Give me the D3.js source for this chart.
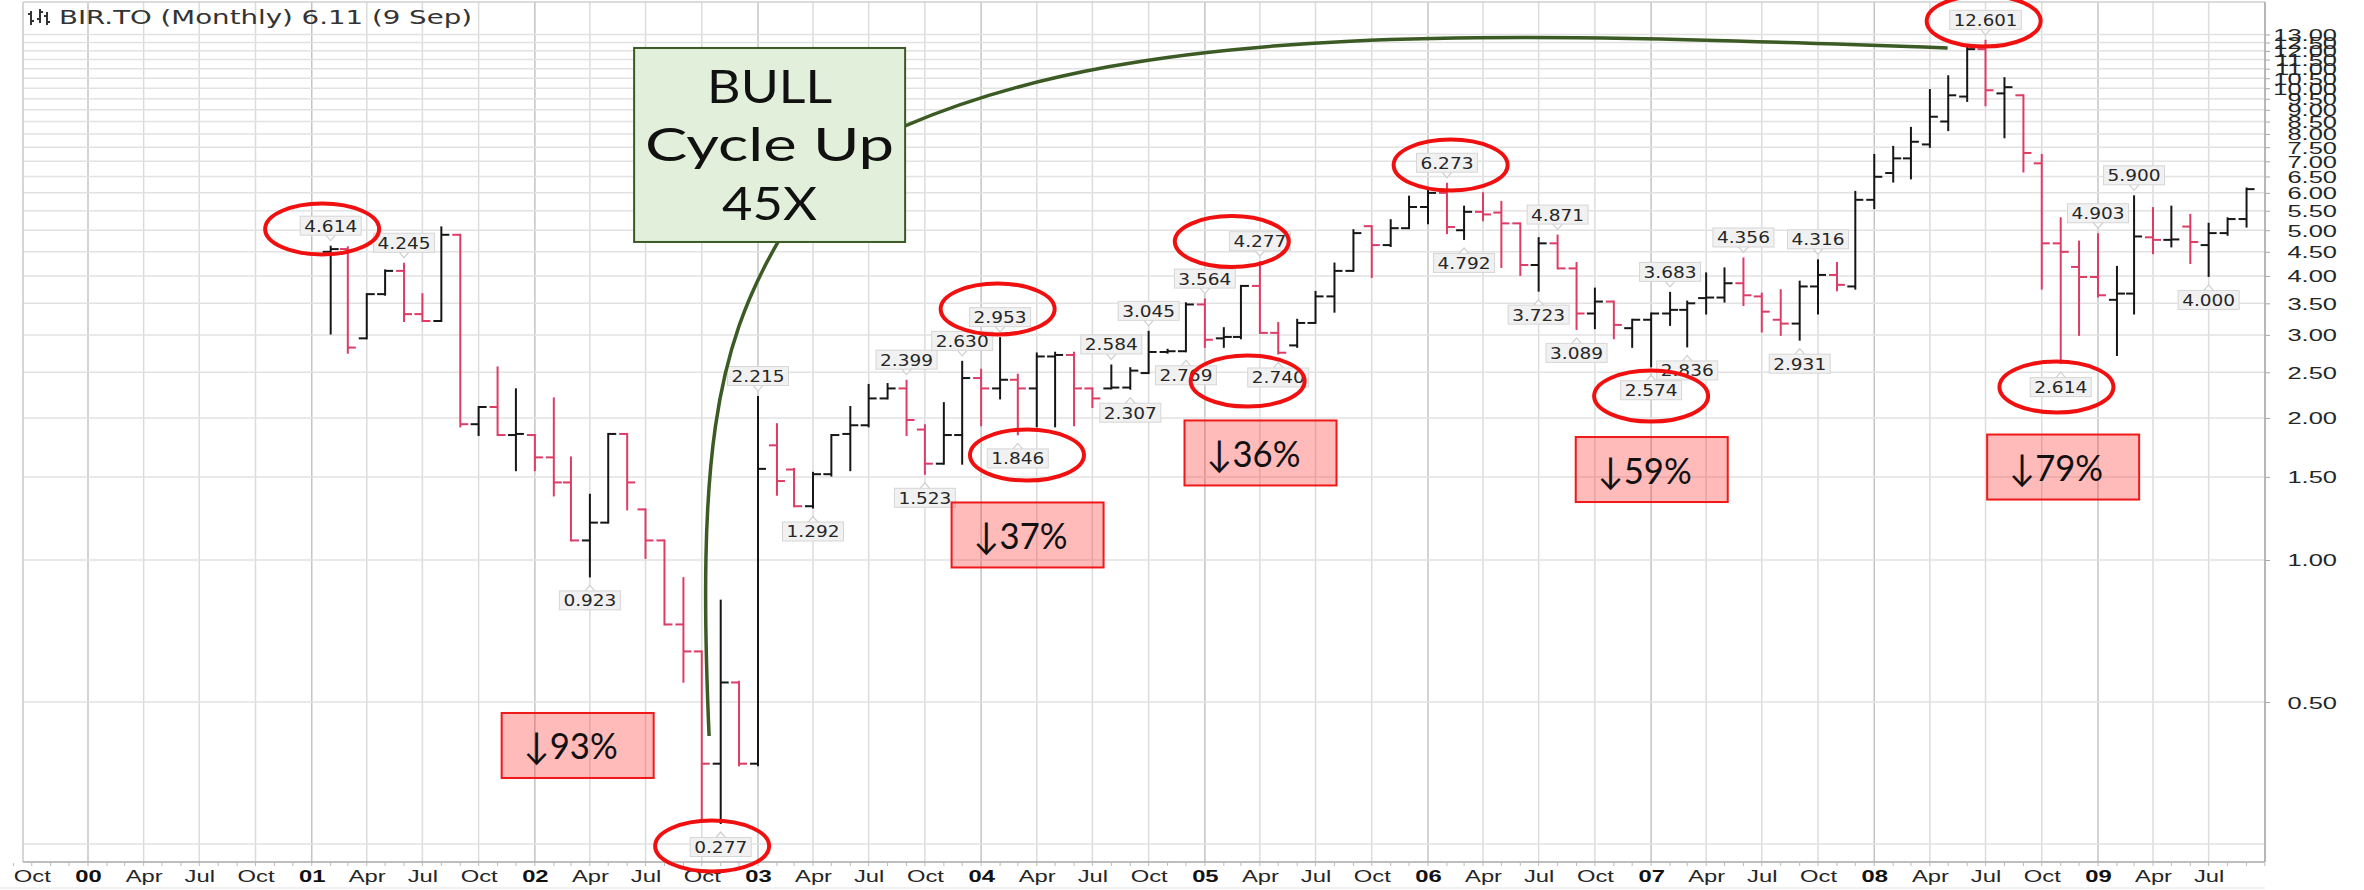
<!DOCTYPE html>
<html><head><meta charset="utf-8">
<script src="https://cdn.jsdelivr.net/npm/d3@7/dist/d3.min.js"></script>
<style>
html,body{margin:0;padding:0;background:#fff;}
svg{display:block;}
</style></head><body>
<svg id="chart" width="2364" height="890"></svg>
<script>
// ================= DATA =================
const titleText = "BIR.TO (Monthly) 6.11 (9 Sep)";
const firstMonth = "2001-02";   // first monthly bar, one bar per month through Sep 2009
// OHLC, Feb 2001 .. Sep 2009
const opens = [
  4.50, 4.56, 2.95, 3.66, 4.10, 3.32, 3.21, 4.89, 1.94, 2.11, 1.84,
  1.84, 1.65, 1.46, 1.10, 1.20, 1.85, 1.28, 1.10, 0.73, 0.64, 0.37, 0.55,
  0.37, 1.75, 1.555, 1.30, 1.52, 1.85, 1.93, 2.20, 2.31, 1.89, 1.60, 1.84,
  2.43, 2.31, 2.41, 2.31, 2.70, 2.72, 2.31, 2.31, 2.32, 2.49, 2.76, 2.77,
  3.48, 2.95, 2.97, 3.81, 3.03, 2.85, 3.18, 3.62, 4.10, 5.10, 4.65, 5.05,
  5.60, 6.00, 5.00, 5.47, 5.45, 5.17, 4.22, 4.69, 4.15, 3.33, 3.53, 3.10,
  3.23, 3.33, 3.39, 3.59, 3.60, 3.86, 3.62, 3.23, 3.17, 3.80, 4.02, 3.80,
  5.80, 6.61, 7.10, 7.60, 8.50, 9.60, 12.10, 9.75, 9.66, 6.93, 4.69, 4.18,
  3.98, 3.56, 3.67, 4.83, 4.77, 5.09, 4.65, 4.93, 5.28
];
const highs = [
  4.614, 4.60, 3.66, 4.11, 4.245, 3.66, 5.07, 4.89, 2.11, 2.56, 2.30,
  1.84, 2.20, 1.65, 1.375, 1.85, 1.85, 1.28, 1.10, 0.915, 0.64, 0.82, 0.552,
  2.215, 1.94, 1.56, 1.53, 1.84, 2.11, 2.35, 2.36, 2.399, 1.93, 2.15, 2.630,
  2.53, 2.953, 2.47, 2.74, 2.75, 2.75, 2.31, 2.584, 2.55, 3.045, 2.79, 3.50,
  3.564, 3.10, 3.81, 4.277, 3.18, 3.23, 3.70, 4.25, 5.00, 5.10, 5.25, 5.89,
  6.08, 6.273, 5.61, 5.99, 5.74, 5.17, 4.81, 4.871, 4.26, 3.76, 3.53, 3.23,
  3.33, 3.683, 3.53, 4.05, 4.15, 4.356, 3.67, 3.73, 3.89, 4.316, 4.26, 6.03,
  7.22, 7.51, 8.24, 9.91, 10.6, 12.25, 12.601, 10.50, 9.66, 7.22, 5.30, 4.73,
  4.903, 4.18, 5.900, 5.57, 5.61, 5.39, 5.16, 5.30, 6.13
];
const lows = [
  3.02, 2.75, 2.95, 3.65, 3.21, 3.21, 3.21, 1.92, 1.84, 1.84, 1.55,
  1.55, 1.37, 1.10, 0.923, 1.20, 1.28, 1.01, 0.73, 0.552, 0.28, 0.277, 0.367,
  0.367, 1.375, 1.30, 1.292, 1.51, 1.55, 1.92, 2.20, 1.84, 1.523, 1.60, 1.60,
  1.93, 2.20, 1.846, 1.92, 1.92, 1.93, 2.11, 2.31, 2.307, 2.49, 2.75, 2.769,
  2.83, 2.83, 2.95, 3.03, 2.740, 2.83, 3.18, 3.36, 4.10, 3.98, 4.63, 5.05,
  5.17, 4.93, 4.792, 5.25, 4.18, 4.02, 3.723, 4.15, 3.089, 3.10, 2.95, 2.83,
  2.574, 3.15, 2.836, 3.33, 3.53, 3.47, 3.05, 3.00, 2.931, 3.33, 3.73, 3.76,
  5.57, 6.34, 6.44, 7.51, 8.15, 9.40, 9.20, 7.87, 6.66, 3.76, 2.614, 3.00,
  3.62, 2.72, 3.33, 4.47, 4.62, 4.26, 4.000, 4.89, 5.09
];
const closes = [
  4.56, 2.82, 3.66, 4.10, 3.32, 3.21, 4.89, 1.94, 2.11, 1.84, 1.85,
  1.65, 1.46, 1.10, 1.20, 1.85, 1.46, 1.10, 0.73, 0.64, 0.37, 0.55, 0.37,
  1.56, 1.47, 1.30, 1.52, 1.84, 1.93, 2.20, 2.31, 1.98, 1.60, 1.84, 2.43,
  2.31, 2.41, 2.31, 2.70, 2.72, 2.31, 2.20, 2.32, 2.52, 2.76, 2.77, 3.48,
  2.93, 2.97, 3.81, 3.03, 2.75, 3.18, 3.62, 4.10, 4.93, 4.65, 5.05, 5.60,
  6.00, 5.08, 5.47, 5.40, 5.17, 4.22, 4.69, 4.15, 3.33, 3.53, 3.15, 3.23,
  3.33, 3.39, 3.50, 3.60, 3.86, 3.64, 3.36, 3.17, 3.80, 4.02, 3.83, 5.80,
  6.49, 7.10, 7.70, 8.70, 9.66, 12.10, 9.90, 10.05, 7.29, 4.69, 4.50, 3.98,
  3.64, 3.67, 4.85, 4.77, 4.78, 4.72, 4.93, 5.28, 6.11
];

// axis ticks
const yTickValues = [0.50, 1.00, 1.50, 2.00, 2.50, 3.00, 3.50, 4.00, 4.50, 5.00, 5.50, 6.00, 6.50,
                     7.00, 7.50, 8.00, 8.50, 9.00, 9.50, 10.00, 10.50, 11.00, 11.50, 12.00, 12.50, 13.00];
const yGridExtra = [0.25];
const xTickStart = "1999-10", xTickEnd = "2009-07";   // quarterly labels: Oct, 00, Apr, Jul ...

// price call-outs (month, value, H = high / L = low)
const calloutMonths = ["2001-02","2001-06","2002-04","2002-11","2003-01","2003-04","2003-09","2003-10","2003-12",
  "2004-02","2004-03","2004-08","2004-09","2004-10","2004-12","2005-01","2005-04","2005-05",
  "2006-02","2006-03","2006-07","2006-08","2006-09","2007-01","2007-02","2007-03","2007-06",
  "2007-09","2007-10","2008-07","2008-11","2009-01","2009-03","2009-07"];
const calloutValues = [4.614,4.245,0.923,0.277,2.215,1.292,2.399,1.523,2.630,
  2.953,1.846,2.584,2.307,3.045,2.769,3.564,4.277,2.740,
  6.273,4.792,3.723,4.871,3.089,2.574,3.683,2.836,4.356,
  2.931,4.316,12.601,2.614,4.903,5.900,4.000];
const calloutKinds = ["H","H","L","L","H","L","H","L","H",
  "H","L","H","L","H","L","H","H","L",
  "H","L","L","H","L","L","H","L","H",
  "L","H","H","L","H","H","L"];

// red ellipse highlights (date, price at centre)
const ellipseDates  = ["2001-01-18","2002-10-18","2004-01-28","2004-03-16","2005-02-14","2005-03-12","2006-02-07","2007-01-01","2008-06-28","2008-10-25"];
const ellipseValues = [5.03, 0.2476, 3.404, 1.669, 4.73, 2.395, 6.874, 2.226, 13.88, 2.326];

// drawdown boxes (date, price at centre)
const dropLabels = ["\u219393%","\u219337%","\u219336%","\u219359%","\u219379%"];
const dropDates  = ["2002-03-12","2004-03-17","2005-04-02","2007-01-02","2008-11-05"];
const dropValues = [0.4044, 1.1298, 1.686, 1.555, 1.574];

// bull-cycle call-out box and its connector ends
const bullLines = ["BULL","Cycle Up","45X"];
const bullDate = "2003-01-20", bullValue = 7.58;
const bullTopEnd = {date:"2008-04-30", value:12.17};
const bullLowEnd = {date:"2002-10-13", value:0.4236};

// ================= DRAWING =================
const svg = d3.select("#chart");
const plot = {left:23, right:2265, top:2, bottom:862};
const pm = d3.timeParse("%Y-%m"), pd = d3.timeParse("%Y-%m-%d");
const x = d3.scaleTime().domain([new Date(2000,0,1), new Date(2009,0,1)]).range([88, 2098]);
const y = d3.scaleLog().domain([0.5, 13]).range([702, 34.45]);

const FS = "'Liberation Sans', Arial, sans-serif";
const FV = "'DejaVu Sans', Verdana, sans-serif";
const BLACK = "#161616", PINK = "#dc3c66";

const start = pm(firstMonth);
const data = opens.map((o,i)=>({date:d3.timeMonth.offset(start,i), o, h:highs[i], l:lows[i], c:closes[i]}));
data.forEach((d,i)=>{ d.up = i===0 ? true : d.c >= data[i-1].c; });

svg.append("rect").attr("width",2364).attr("height",890).attr("fill","#fff");

// grid
const grid = svg.append("g");
const gridDates = d3.timeMonth.every(3).range(new Date(2000,0,1), new Date(2009,9,2));
grid.selectAll("line.v").data(gridDates).join("line")
  .attr("x1",d=>x(d)).attr("x2",d=>x(d)).attr("y1",plot.top).attr("y2",plot.bottom)
  .attr("stroke",d=>d.getMonth()===0?"#c4c4c4":"#dcdcdc").attr("stroke-width",1.5);
grid.selectAll("line.h").data(yGridExtra.concat(yTickValues)).join("line")
  .attr("x1",plot.left).attr("x2",plot.right).attr("y1",d=>y(d)).attr("y2",d=>y(d))
  .attr("stroke","#e2e2e2").attr("stroke-width",1.5);

// frame
svg.append("line").attr("x1",plot.left).attr("x2",plot.left).attr("y1",plot.top).attr("y2",plot.bottom).attr("stroke","#c8c8c8").attr("stroke-width",1.5);
svg.append("line").attr("x1",plot.left).attr("x2",plot.right).attr("y1",plot.top).attr("y2",plot.top).attr("stroke","#d0d0d0").attr("stroke-width",1.5);
svg.append("line").attr("x1",plot.right).attr("x2",plot.right).attr("y1",plot.top).attr("y2",plot.bottom).attr("stroke","#a8a8a8").attr("stroke-width",1.5);
svg.append("line").attr("x1",plot.left).attr("x2",plot.right).attr("y1",plot.bottom).attr("y2",plot.bottom).attr("stroke","#a8a8a8").attr("stroke-width",1.5);
svg.append("line").attr("x1",0).attr("x2",plot.right).attr("y1",888).attr("y2",888).attr("stroke","#e4e4e4").attr("stroke-width",1);

// y axis (right)
const yAxis = d3.axisRight(y).tickValues(yTickValues).tickFormat(d3.format(".2f")).tickSize(5).tickPadding(0);
const gy = svg.append("g").attr("transform",`translate(${plot.right},0)`).call(yAxis);
gy.select(".domain").remove();
gy.selectAll(".tick line").attr("stroke","#a8a8a8");
gy.selectAll(".tick text").attr("x",0).attr("dy",null).attr("text-anchor","end")
  .attr("transform","translate(72,6) scale(1.5,1)")
  .attr("font-family",FS).attr("font-size",17).attr("fill","#262626");

// x axis (bottom)
const xTickDates = d3.timeMonth.every(3).range(pm(xTickStart), d3.timeMonth.offset(pm(xTickEnd),1));
const xAxis = d3.axisBottom(x).tickValues(xTickDates)
  .tickFormat(d=>d.getMonth()===0 ? d3.timeFormat("%y")(d) : d3.timeFormat("%b")(d)).tickSize(0);
const gx = svg.append("g").attr("transform",`translate(0,${plot.bottom})`).call(xAxis);
gx.select(".domain").remove();
gx.selectAll(".tick text").attr("y",null).attr("dy",null)
  .attr("transform","translate(0,20) scale(1.4,1)")
  .attr("font-family",FS).attr("font-size",17)
  .attr("font-weight",d=>d.getMonth()===0?"bold":"normal")
  .attr("fill",d=>d.getMonth()===0?"#111":"#262626");
// monthly minor ticks
svg.append("g").selectAll("line").data(d3.timeMonth.range(new Date(1999,8,1), new Date(2009,10,1))).join("line")
  .attr("x1",d=>x(d)).attr("x2",d=>x(d)).attr("y1",plot.bottom+1).attr("y2",plot.bottom+4)
  .attr("stroke","#bbb").attr("stroke-width",1);

// title
const tg = svg.append("g").attr("stroke","#333").attr("stroke-width",2);
tg.append("path").attr("d","M31,11V25M28,14H31M31,21H34").attr("fill","none");
tg.append("path").attr("d","M40,9V23M37,19H40M40,12H43").attr("fill","none");
tg.append("path").attr("d","M47,12V25M44,16H47M47,22H50").attr("fill","none");
svg.append("text").attr("x",59).attr("y",24).text(titleText)
  .attr("font-family",FV).attr("font-size",19).attr("fill","#333")
  .attr("textLength",413).attr("lengthAdjust","spacingAndGlyphs");

// OHLC bars
const TK = 8;
const bars = svg.append("g").selectAll("g").data(data).join("g")
  .attr("stroke",d=>d.up?BLACK:PINK).attr("stroke-width",2).attr("fill","none");
bars.append("line").attr("x1",d=>x(d.date)).attr("x2",d=>x(d.date))
  .attr("y1",d=>y(d.h)-1).attr("y2",d=>y(d.l)+1);
bars.append("line").attr("x1",d=>x(d.date)-TK).attr("x2",d=>x(d.date))
  .attr("y1",d=>y(d.o)).attr("y2",d=>y(d.o));
bars.append("line").attr("x1",d=>x(d.date)).attr("x2",d=>x(d.date)+TK)
  .attr("y1",d=>y(d.c)).attr("y2",d=>y(d.c));

// price call-outs
const fmt3 = d3.format(".3f");
const callouts = calloutMonths.map((m,i)=>({date:pm(m), v:calloutValues[i], k:calloutKinds[i]}));
const cg = svg.append("g").selectAll("g").data(callouts).join("g")
  .attr("transform",d=>`translate(${x(d.date)},${y(d.v) + (d.k==="H"?-21:24)})`);
cg.append("path").attr("d",d=> d.k==="H" ? "M-6,8L0,15L6,8" : "M-6,-8L0,-15L6,-8")
  .attr("fill","#fff").attr("stroke","#cfcfcf").attr("stroke-width",1.2);
cg.append("rect").attr("x",d=>-(fmt3(d.v).length*10.6+8)/2).attr("y",-9.5)
  .attr("width",d=>fmt3(d.v).length*10.6+8).attr("height",19)
  .attr("fill","#f1f1f1").attr("stroke","#d6d6d6").attr("stroke-width",1);
cg.append("text").text(d=>fmt3(d.v)).attr("text-anchor","middle").attr("y",6)
  .attr("font-family",FV).attr("font-size",16.5).attr("fill","#262626")
  .attr("textLength",d=>fmt3(d.v).length*10.6).attr("lengthAdjust","spacingAndGlyphs");

// drawdown boxes
const drops = dropLabels.map((t,i)=>({t, date:pd(dropDates[i]), v:dropValues[i]}));
const dg = svg.append("g").selectAll("g").data(drops).join("g")
  .attr("transform",d=>`translate(${x(d.date)},${y(d.v)})`);
dg.append("rect").attr("x",-76).attr("y",-32.5).attr("width",152).attr("height",65)
  .attr("fill","rgba(255,40,40,0.32)").attr("stroke","#f01818").attr("stroke-width",2);
dg.append("text").text(d=>d.t).attr("x",-54).attr("y",14)
  .attr("font-family","Lato, 'DejaVu Sans', sans-serif").attr("font-size",37).attr("fill","#111")
  .attr("textLength",94).attr("lengthAdjust","spacingAndGlyphs");

// red ellipses
svg.append("g").selectAll("ellipse").data(ellipseDates.map((d,i)=>({date:pd(d), v:ellipseValues[i]}))).join("ellipse")
  .attr("cx",d=>x(d.date)).attr("cy",d=>y(d.v)).attr("rx",57).attr("ry",25.5)
  .attr("fill","none").attr("stroke","#f01010").attr("stroke-width",4);

// bull box + connectors
const GREEN = "#3b5a24";
const bx = x(pd(bullDate)), by = y(bullValue), bw = 271, bh = 194;
const p1s = [bx + bw/2, by - 19], p1e = [x(pd(bullTopEnd.date)), y(bullTopEnd.value)];
const p2s = [bx + 8.5, by + bh/2], p2e = [x(pd(bullLowEnd.date)), y(bullLowEnd.value)];
const conn = d3.path();
conn.moveTo(p1s[0],p1s[1]);
conn.bezierCurveTo(p1s[0]+245,p1s[1]-106, p1e[0]-448,p1e[1]-16, p1e[0],p1e[1]);
conn.moveTo(p2s[0],p2s[1]);
conn.bezierCurveTo(p2s[0]-63,p2s[1]+108, p2e[0]-12,p2e[1]-276, p2e[0],p2e[1]);
svg.append("path").attr("d",conn.toString()).attr("fill","none").attr("stroke",GREEN).attr("stroke-width",3.5);
svg.append("rect").attr("x",bx-bw/2).attr("y",by-bh/2).attr("width",bw).attr("height",bh)
  .attr("fill","#e2efda").attr("stroke",GREEN).attr("stroke-width",2);
const bullLens = [125, 249, 95], bullDy = [-42, 16, 75];
svg.append("g").selectAll("text").data(bullLines).join("text")
  .text(d=>d).attr("x",(d,i)=>bx - bullLens[i]/2).attr("y",(d,i)=>by + bullDy[i])
  .attr("font-family","Lato, 'Open Sans', sans-serif").attr("font-size",46).attr("fill","#111")
  .attr("textLength",(d,i)=>bullLens[i]).attr("lengthAdjust","spacingAndGlyphs");
</script>
</body></html>
